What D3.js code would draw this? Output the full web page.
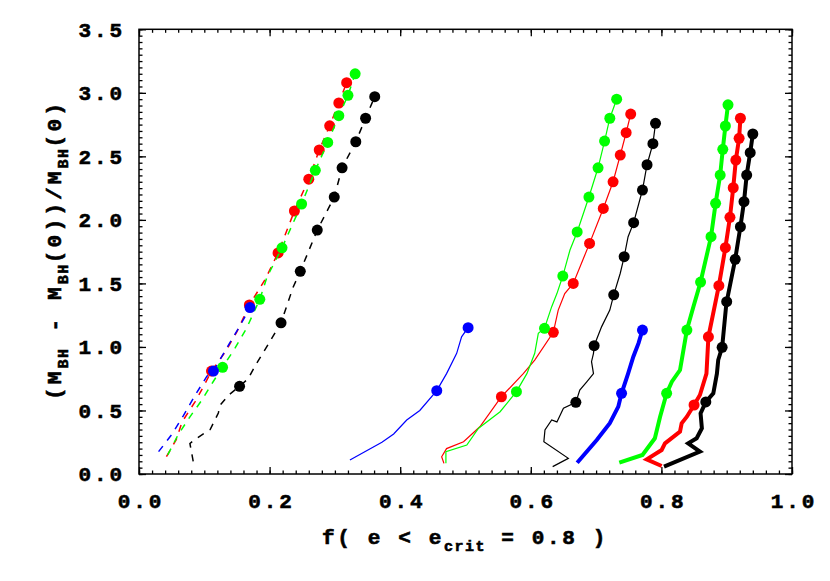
<!DOCTYPE html>
<html>
<head>
<meta charset="utf-8">
<script src="https://cdn.jsdelivr.net/npm/d3@7"></script>
<style>
  body { margin: 0; background: #fff; }
</style>
</head>
<body>
<div id="chart"></div>
<script>
// tick labels
var xTicks = [0, 0.2, 0.4, 0.6, 0.8, 1.0];
var yTicks = [0, 0.5, 1.0, 1.5, 2.0, 2.5, 3.0, 3.5];

// dashed runs (left group)
var blackDash = [[0.083,0.10],[0.078,0.24],[0.088,0.28],[0.109,0.35],[0.1215,0.48],[0.124,0.54],[0.137,0.62],[0.154,0.69],[0.167,0.75],[0.180,0.87],[0.1955,1.0],[0.2175,1.19],[0.236,1.47],[0.247,1.595],[0.273,1.92],[0.299,2.18],[0.311,2.41],[0.332,2.615],[0.347,2.80],[0.361,2.97]];
var blackDashMarks = [[0.154,0.69],[0.2175,1.19],[0.247,1.595],[0.273,1.92],[0.299,2.18],[0.311,2.41],[0.332,2.615],[0.347,2.80],[0.361,2.97]];
var redDash = [[0.042,0.137],[0.057,0.27],[0.066,0.41],[0.086,0.57],[0.099,0.69],[0.111,0.81],[0.132,0.96],[0.150,1.12],[0.169,1.33],[0.193,1.53],[0.213,1.74],[0.238,2.07],[0.260,2.32],[0.276,2.55],[0.292,2.74],[0.306,2.92],[0.318,3.08]];
var redDashMarks = [[0.111,0.81],[0.169,1.33],[0.213,1.74],[0.238,2.07],[0.260,2.32],[0.276,2.55],[0.292,2.74],[0.306,2.92],[0.318,3.08]];
var greenDash = [[0.044,0.15],[0.060,0.31],[0.078,0.45],[0.096,0.58],[0.114,0.73],[0.128,0.84],[0.147,0.99],[0.165,1.15],[0.185,1.375],[0.196,1.55],[0.219,1.78],[0.249,2.125],[0.270,2.39],[0.289,2.61],[0.306,2.82],[0.320,2.98],[0.331,3.15]];
var greenDashMarks = [[0.128,0.84],[0.185,1.375],[0.219,1.78],[0.249,2.125],[0.270,2.39],[0.289,2.61],[0.306,2.82],[0.320,2.98],[0.331,3.15]];
var blueDash = [[0.030,0.176],[0.050,0.31],[0.068,0.46],[0.086,0.62],[0.104,0.77],[0.114,0.81],[0.137,1.015],[0.155,1.17],[0.170,1.31]];
var blueDashMarks = [[0.114,0.81],[0.170,1.31]];

// thin solid runs (middle group)
var blueThin = [[0.323,0.11],[0.372,0.25],[0.390,0.315],[0.410,0.425],[0.430,0.50],[0.456,0.656],[0.471,0.79],[0.4865,0.95],[0.494,1.08],[0.504,1.152]];
var blueThinMarks = [[0.456,0.656],[0.504,1.152]];
var blackThin = [[0.6335,0.058],[0.6575,0.123],[0.620,0.254],[0.6217,0.346],[0.632,0.425],[0.640,0.41],[0.650,0.517],[0.669,0.564],[0.675,0.66],[0.686,0.727],[0.696,0.79],[0.693,0.884],[0.696,0.95],[0.697,1.01],[0.7085,1.16],[0.721,1.29],[0.727,1.41],[0.737,1.58],[0.743,1.71],[0.749,1.868],[0.7575,1.978],[0.771,2.235],[0.778,2.434],[0.787,2.60],[0.791,2.76]];
var blackThinMarks = [[0.669,0.564],[0.697,1.01],[0.727,1.41],[0.743,1.71],[0.7575,1.978],[0.771,2.235],[0.778,2.434],[0.787,2.60],[0.791,2.76]];
var redThin = [[0.467,0.084],[0.4635,0.136],[0.471,0.20],[0.497,0.254],[0.522,0.372],[0.555,0.608],[0.5885,0.79],[0.606,0.897],[0.6345,1.115],[0.642,1.29],[0.652,1.42],[0.665,1.50],[0.690,1.815],[0.711,2.09],[0.726,2.30],[0.737,2.51],[0.746,2.686],[0.753,2.833]];
var redThinMarks = [[0.555,0.608],[0.6345,1.115],[0.665,1.50],[0.690,1.815],[0.711,2.09],[0.726,2.30],[0.737,2.51],[0.746,2.686],[0.753,2.833]];
var greenThin = [[0.470,0.084],[0.470,0.176],[0.502,0.228],[0.520,0.36],[0.553,0.49],[0.578,0.648],[0.594,0.79],[0.606,0.95],[0.6115,1.107],[0.621,1.147],[0.632,1.317],[0.640,1.42],[0.649,1.558],[0.660,1.763],[0.671,1.905],[0.689,2.18],[0.703,2.41],[0.713,2.62],[0.721,2.80],[0.7315,2.95]];
var greenThinMarks = [[0.578,0.648],[0.621,1.147],[0.649,1.558],[0.671,1.905],[0.689,2.18],[0.703,2.41],[0.713,2.62],[0.721,2.80],[0.7315,2.95]];

// thick solid runs (right group)
var blueThick = [[0.671,0.089],[0.701,0.268],[0.721,0.40],[0.734,0.53],[0.739,0.635],[0.749,0.79],[0.757,0.923],[0.765,1.03],[0.771,1.133]];
var blueThickMarks = [[0.739,0.635],[0.771,1.133]];
var blackThick = [[0.804,0.058],[0.859,0.176],[0.841,0.241],[0.854,0.281],[0.862,0.36],[0.860,0.477],[0.868,0.567],[0.8795,0.635],[0.885,0.79],[0.887,0.897],[0.893,0.997],[0.899,1.317],[0.900,1.356],[0.913,1.69],[0.921,1.946],[0.9265,2.143],[0.9306,2.353],[0.936,2.529],[0.940,2.676]];
var blackThickMarks = [[0.868,0.567],[0.893,0.997],[0.900,1.356],[0.913,1.69],[0.921,1.946],[0.9265,2.143],[0.9306,2.353],[0.936,2.529],[0.940,2.676]];
var redThick = [[0.8004,0.063],[0.7775,0.115],[0.8004,0.189],[0.8055,0.241],[0.8285,0.333],[0.831,0.399],[0.839,0.451],[0.850,0.543],[0.859,0.622],[0.869,0.79],[0.872,1.08],[0.888,1.482],[0.898,1.781],[0.905,2.02],[0.910,2.253],[0.914,2.471],[0.919,2.642],[0.921,2.80]];
var redThickMarks = [[0.850,0.543],[0.872,1.08],[0.888,1.482],[0.898,1.781],[0.905,2.02],[0.910,2.253],[0.914,2.471],[0.919,2.642],[0.921,2.80]];
var greenThick = [[0.7355,0.089],[0.771,0.15],[0.790,0.281],[0.798,0.451],[0.808,0.635],[0.816,0.727],[0.8285,0.818],[0.839,1.133],[0.849,1.317],[0.860,1.511],[0.876,1.868],[0.883,2.13],[0.890,2.353],[0.894,2.555],[0.898,2.739],[0.902,2.906]];
var greenThickMarks = [[0.808,0.635],[0.839,1.133],[0.860,1.511],[0.876,1.868],[0.883,2.13],[0.890,2.353],[0.894,2.555],[0.898,2.739],[0.902,2.906]];

var series = [
    { color: "#000000", width: 1.5, dash: "7,7", line: blackDash, marks: blackDashMarks },
    { color: "#ff0000", width: 1.5, dash: "7,7", line: redDash, marks: redDashMarks },
    { color: "#00ff00", width: 1.5, dash: "7,7", line: greenDash, marks: greenDashMarks },
    { color: "#0000ff", width: 1.5, dash: "7,7", line: blueDash, marks: blueDashMarks },
    { color: "#0000ff", width: 1.2, dash: null, line: blueThin, marks: blueThinMarks },
    { color: "#000000", width: 1.2, dash: null, line: blackThin, marks: blackThinMarks },
    { color: "#ff0000", width: 1.2, dash: null, line: redThin, marks: redThinMarks },
    { color: "#00ff00", width: 1.2, dash: null, line: greenThin, marks: greenThinMarks },
    { color: "#0000ff", width: 4, dash: null, line: blueThick, marks: blueThickMarks },
    { color: "#000000", width: 4, dash: null, line: blackThick, marks: blackThickMarks },
    { color: "#ff0000", width: 4, dash: null, line: redThick, marks: redThickMarks },
    { color: "#00ff00", width: 4, dash: null, line: greenThick, marks: greenThickMarks }
];

var margin = { top: 29.3, right: 38, bottom: 107, left: 139 },
    width = 830 - margin.left - margin.right,
    height = 581 - margin.top - margin.bottom;

var font = "'Liberation Mono', 'Courier New', monospace";

var root = d3
    .select("#chart")
    .append("svg")
    .attr("width", 830)
    .attr("height", 581)
    .style("display", "block");

var svg = root
    .append("g")
    .attr("transform", "translate(" + margin.left + "," + margin.top + ")");

var x = d3.scaleLinear().domain([0, 1]).range([0, width]);
var y = d3.scaleLinear().domain([0, 3.5]).range([height, 0]);

var xMinor = d3.range(0, 1.0001, 0.02);
var yMinor = d3.range(0, 3.5001, 0.05);

// heavy courier-like text, like the plotting package's bold font
function boldText(sel, size, spacing) {
    sel.style("font-family", font)
        .style("font-weight", "bold")
        .style("font-size", size + "px")
        .style("letter-spacing", spacing + "px")
        .style("stroke", "#000")
        .style("stroke-width", "0.6px")
        .attr("fill", "#000");
}

function styleTicks(g) {
    g.select(".domain").remove();
    g.selectAll("line").attr("stroke", "#000").attr("stroke-width", 1.3);
    g.selectAll("text").call(boldText, 21, 2.9);
}

// minor ticks on all four sides
svg.append("g").attr("transform", "translate(0," + height + ")")
    .call(d3.axisBottom(x).tickValues(xMinor).tickSize(-3.5).tickFormat("")).call(styleTicks);
svg.append("g")
    .call(d3.axisTop(x).tickValues(xMinor).tickSize(-3.5).tickFormat("")).call(styleTicks);
svg.append("g")
    .call(d3.axisLeft(y).tickValues(yMinor).tickSize(-3.5).tickFormat("")).call(styleTicks);
svg.append("g").attr("transform", "translate(" + width + ",0)")
    .call(d3.axisRight(y).tickValues(yMinor).tickSize(-3.5).tickFormat("")).call(styleTicks);

// major ticks
var xAxis = svg.append("g").attr("transform", "translate(0," + height + ")")
    .call(d3.axisBottom(x).tickValues(xTicks).tickSize(-7).tickFormat(d3.format(".1f")))
    .call(styleTicks);
xAxis.selectAll("text").attr("y", 34).attr("dy", 0).attr("dx", 1.45);

var yAxis = svg.append("g")
    .call(d3.axisLeft(y).tickValues(yTicks).tickSize(-7).tickFormat(d3.format(".1f")))
    .call(styleTicks);
yAxis.selectAll("text").attr("x", -14).attr("dy", "0.33em");

svg.append("g")
    .call(d3.axisTop(x).tickValues(xTicks).tickSize(-7).tickFormat("")).call(styleTicks);
svg.append("g").attr("transform", "translate(" + width + ",0)")
    .call(d3.axisRight(y).tickValues(yTicks).tickSize(-7).tickFormat("")).call(styleTicks);

// frame
svg.append("rect")
    .attr("width", width)
    .attr("height", height)
    .attr("fill", "none")
    .attr("stroke", "#000")
    .attr("stroke-width", 1.5);

var line = d3.line()
    .x(function (d) { return x(d[0]); })
    .y(function (d) { return y(d[1]); });

series.forEach(function (s) {
    svg.append("path")
        .datum(s.line)
        .attr("d", line)
        .attr("fill", "none")
        .attr("stroke", s.color)
        .attr("stroke-width", s.width)
        .attr("stroke-dasharray", s.dash)
        .attr("stroke-linejoin", "miter");

    svg.selectAll(null)
        .data(s.marks)
        .enter()
        .append("circle")
        .attr("cx", function (d) { return x(d[0]); })
        .attr("cy", function (d) { return y(d[1]); })
        .attr("r", 5.5)
        .attr("fill", s.color);
});

// titles: main text and subscripts as [string, isSub] parts
function addTitle(parts, transform, target) {
    var t = root.append("text")
        .attr("transform", transform)
        .attr("text-anchor", "middle")
        .style("white-space", "pre")
        .call(boldText, 21, 2.9);
    var nMain = 0;
    parts.forEach(function (p, i) {
        var ts = t.append("tspan").text(p[0]);
        if (p[1]) {
            ts.attr("dy", 7).style("font-size", "15px").style("letter-spacing", "1.5px");
        } else {
            if (i > 0) ts.attr("dy", -7);
            nMain += p[0].length;
        }
    });
    // stretch the spacing so the title spans the same length as the original
    var len = t.node().getComputedTextLength();
    t.style("letter-spacing", (2.9 + (target - len) / nMain) + "px");
    return t;
}

addTitle([["f( e < e", false], ["crit", true], [" = 0.8 )", false]],
    "translate(465,544)", 286);

addTitle([["(M", false], ["BH", true], [" - M", false], ["BH", true],
    ["(0))/M", false], ["BH", true], ["(0)", false]],
    "translate(61,250) rotate(-90)", 300);
</script>
</body>
</html>
